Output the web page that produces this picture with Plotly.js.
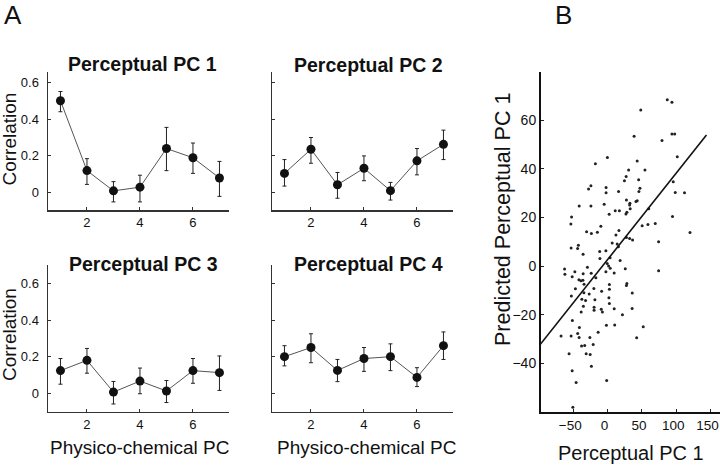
<!DOCTYPE html>
<html>
<head>
<meta charset="utf-8">
<script src="https://cdn.plot.ly/plotly-3.0.1.min.js"></script>
<style>html,body{margin:0;padding:0;background:#fff;}#chart{width:720px;height:466px;}</style>
</head>
<body>
<div id="chart"></div>
<script>
// ---------- DATA ----------
const pcIndex = [1, 2, 3, 4, 5, 6, 7];
const xTicks = [2, 4, 6];
const corrTicks = [0, 0.2, 0.4, 0.6];
const corrTickText = ['0', '0.2', '0.4', '0.6'];

const pc1Mean  = [0.50, 0.12, 0.01, 0.03, 0.24, 0.19, 0.08];
const pc1Plus  = [0.05, 0.065, 0.05, 0.065, 0.115, 0.08, 0.09];
const pc1Minus = [0.06, 0.075, 0.06, 0.08, 0.12, 0.085, 0.10];

const pc2Mean  = [0.105, 0.236, 0.043, 0.133, 0.011, 0.173, 0.263];
const pc2Plus  = [0.075, 0.064, 0.067, 0.067, 0.045, 0.067, 0.077];
const pc2Minus = [0.069, 0.076, 0.073, 0.068, 0.051, 0.076, 0.083];

const pc3Mean  = [0.124, 0.18, 0.007, 0.067, 0.013, 0.124, 0.113];
const pc3Plus  = [0.066, 0.065, 0.058, 0.071, 0.057, 0.066, 0.091];
const pc3Minus = [0.074, 0.07, 0.065, 0.069, 0.063, 0.069, 0.097];

const pc4Mean  = [0.20, 0.25, 0.125, 0.19, 0.20, 0.087, 0.26];
const pc4Plus  = [0.06, 0.075, 0.06, 0.06, 0.07, 0.053, 0.075];
const pc4Minus = [0.05, 0.083, 0.061, 0.07, 0.076, 0.05, 0.075];

const panelTitles = ['Perceptual PC 1', 'Perceptual PC 2', 'Perceptual PC 3', 'Perceptual PC 4'];

// Panel B: perceptual PC1 vs predicted perceptual PC1
const scatterX = [86.9, 93.7, 48.3, 38.6, 79.2, 93.7, 97.7, 101.5, -0.3, -17.8,
  43.1, 30.6, 54.4, 27.0, 24.5, 45.2, 95.6, -24.3, -27.7, -2.2,
  47.1, -2.2, 16.0, 45.6, 98.5, 112.0, 27.4, 43.1, 41.3, 32.5,
  32.1, -41.4, -24.3, -5.0, 32.9, 59.9, 11.1, 17.2, 28.1, 26.7,
  2.3, -52.5, 94.5, -53.5, -9.8, 50.3, 58.7, 69.4, -30.6, -23.6,
  -14.9, 16.5, 12.1, 120.0, 6.7, 27.4, 32.1, 36.4, 74.3, 14.0,
  15.7, -53.1, -42.6, -43.7, -35.7, -11.5, -2.5, -11.2, 3.6, 18.2,
  -0.6, 1.5, 3.8, -62.7, -62.2, -51.6, -47.7, -29.4, -35.6, -23.9,
  -17.1, -2.5, 9.6, 25.7, 74.3, -41.8, -38.9, -36.0, -34.3, -46.9,
  2.6, 28.1, 27.4, -20.0, 2.6, -34.5, -26.8, -52.8, -8.7, 35.9,
  -37.5, -32.1, -18.5, 1.9, 2.6, -35.3, -38.5, -19.7, -19.7, -9.3,
  -7.6, 9.6, 35.7, 21.6, -51.3, -1.7, 10.3, 51.9, -41.1, -13.8,
  -67.8, -53.1, -43.6, -41.5, -25.8, 42.3, -37.9, -33.4, -21.0, -56.1,
  -31.2, -25.4, -23.6, -51.6, -45.8, -1.3, -50.6];
const scatterY = [68.5, 67.4, 64.2, 53.4, 51.7, 54.4, 54.4, 45.0, 44.7, 42.1,
  43.3, 39.6, 39.6, 36.9, 35.1, 35.5, 34.7, 33.1, 31.7, 32.4,
  32.1, 30.2, 30.7, 30.7, 30.3, 30.2, 27.2, 26.9, 26.6, 25.9,
  25.2, 24.8, 24.8, 25.5, 23.6, 23.6, 22.8, 22.8, 22.2, 21.5,
  21.4, 20.2, 20.4, 17.3, 16.4, 16.6, 17.1, 17.6, 14.2, 13.4,
  13.9, 14.7, 12.8, 13.8, 9.5, 11.8, 11.4, 10.8, 10.0, 9.1,
  8.0, 7.5, 8.6, 7.3, 4.9, 6.0, 6.3, 3.1, 3.5, 2.3,
  1.1, 0.1, -0.9, -1.2, -3.3, -4.4, -2.3, -0.4, -3.1, -2.9,
  -4.8, -2.3, -2.8, -1.1, -1.9, -5.6, -6.0, -5.8, -7.4, -9.3,
  -7.5, -7.1, -8.0, -9.2, -9.5, -10.9, -11.5, -12.3, -10.3, -11.0,
  -13.6, -14.1, -13.8, -13.0, -15.4, -16.5, -18.9, -16.9, -18.1, -17.7,
  -18.9, -17.5, -17.4, -20.0, -22.4, -24.3, -24.2, -24.9, -25.2, -27.2,
  -28.7, -28.7, -27.7, -29.3, -29.3, -29.5, -32.8, -32.6, -32.2, -36.0,
  -36.0, -36.3, -41.2, -43.0, -47.9, -47.0, -58.0];
const fitX = [-98, 144];
const fitY = [-32.2, 54.0];
const bXTicks = [-50, 0, 50, 100, 150];
const bYTicks = [-40, -20, 0, 20, 40, 60];

// ---------- LAYOUT HELPERS ----------
const W = 720, H = 466;
const fx = v => v / W;
const fy = v => 1 - v / H;
const FONT = 'Liberation Sans, Arial, Helvetica, sans-serif';

const means = [pc1Mean, pc2Mean, pc3Mean, pc4Mean];
const pluses = [pc1Plus, pc2Plus, pc3Plus, pc4Plus];
const minuses = [pc1Minus, pc2Minus, pc3Minus, pc4Minus];

const traces = [];
for (let i = 0; i < 4; i++) {
  const s = i === 0 ? '' : String(i + 1);
  traces.push({
    type: 'scatter', mode: 'lines+markers',
    x: pcIndex, y: means[i],
    xaxis: 'x' + s, yaxis: 'y' + s,
    line: {color: '#555', width: 1},
    marker: {color: '#111', size: 9},
    error_y: {type: 'data', symmetric: false, array: pluses[i], arrayminus: minuses[i],
              color: '#222', thickness: 1, width: 2},
    showlegend: false, hoverinfo: 'skip'
  });
}
traces.push({
  type: 'scatter', mode: 'markers', x: scatterX, y: scatterY,
  xaxis: 'x5', yaxis: 'y5',
  marker: {color: '#222', size: 3}, showlegend: false, hoverinfo: 'skip'
});
traces.push({
  type: 'scatter', mode: 'lines', x: fitX, y: fitY,
  xaxis: 'x5', yaxis: 'y5',
  line: {color: '#111', width: 1.6}, showlegend: false, hoverinfo: 'skip'
});

function xAx(d0, d1, anchor) {
  return {domain: [fx(d0), fx(d1)], anchor: anchor, range: [0.53, 7.36],
    tickvals: xTicks, ticks: 'inside', ticklen: 3, tickcolor: '#333',
    showline: true, linecolor: '#333', linewidth: 1.5, showgrid: false, zeroline: false,
    tickfont: {family: FONT, size: 13, color: '#111'}, fixedrange: true};
}
function yAx(top, bottom, rng, anchor, labels) {
  return {domain: [fy(bottom), fy(top)], anchor: anchor, range: rng,
    tickvals: corrTicks, ticktext: corrTickText, showticklabels: labels,
    ticks: 'inside', ticklen: 3, tickcolor: '#333', ticklabelstandoff: 5,
    showline: true, linecolor: '#333', linewidth: 1.5, showgrid: false, zeroline: false,
    tickfont: {family: FONT, size: 13, color: '#111'}, fixedrange: true};
}

const topRange = [-0.094, 0.656];
const botRange = [-0.100, 0.700];

const ann = [];
function txt(t, x, y, size, opts) {
  ann.push(Object.assign({text: t, x: fx(x), y: fy(y), xref: 'paper', yref: 'paper',
    xanchor: 'center', yanchor: 'middle', showarrow: false,
    font: {family: FONT, size: size, color: '#111'}}, opts || {}));
}
txt('A', 13, 15, 26);
txt('B', 563, 15, 26);
txt('<b>' + panelTitles[0] + '</b>', 142.5, 64, 19.5);
txt('<b>' + panelTitles[1] + '</b>', 368.7, 65, 19.5);
txt('<b>' + panelTitles[2] + '</b>', 143.3, 263.5, 19.5);
txt('<b>' + panelTitles[3] + '</b>', 368.7, 263.5, 19.5);
txt('Correlation', 9, 139.5, 19, {textangle: -90});
txt('Correlation', 9, 335, 19, {textangle: -90});
txt('Physico-chemical PC', 140, 447, 19);
txt('Physico-chemical PC', 366.7, 447, 19);
txt('Predicted Perceptual PC 1', 503, 220, 21.5, {textangle: -90});
txt('Perceptual PC 1', 631, 453, 20);

const layout = {
  width: W, height: H, margin: {l: 0, r: 0, t: 0, b: 0},
  paper_bgcolor: '#fff', plot_bgcolor: 'rgba(0,0,0,0)',
  showlegend: false,
  xaxis: xAx(48, 229, 'y'),
  yaxis: yAx(72, 210, topRange, 'x', true),
  xaxis2: xAx(272, 453, 'y2'),
  yaxis2: yAx(72, 210, topRange, 'x2', false),
  xaxis3: xAx(48, 229, 'y3'),
  yaxis3: yAx(265, 411.7, botRange, 'x3', true),
  xaxis4: xAx(272, 453, 'y4'),
  yaxis4: yAx(265, 411.7, botRange, 'x4', false),
  xaxis5: {domain: [fx(541), fx(720)], anchor: 'y5', range: [-97, 163.7],
    tickvals: bXTicks, ticks: 'inside', ticklen: 3, tickcolor: '#222',
    ticklabeloverflow: 'allow', ticklabelshift: -3,
    showline: true, linecolor: '#111', linewidth: 2, showgrid: false, zeroline: false,
    tickfont: {family: FONT, size: 13.5, color: '#111'}, fixedrange: true},
  yaxis5: {domain: [fy(412), fy(71.7)], anchor: 'x5', range: [-60, 80],
    tickvals: bYTicks, ticks: 'inside', ticklen: 3, tickcolor: '#222',
    showline: true, linecolor: '#111', linewidth: 2, showgrid: false, zeroline: false,
    tickfont: {family: FONT, size: 14, color: '#111'}, fixedrange: true},
  annotations: ann
};

Plotly.newPlot('chart', traces, layout, {displayModeBar: false, staticPlot: true});
</script>
</body>
</html>
